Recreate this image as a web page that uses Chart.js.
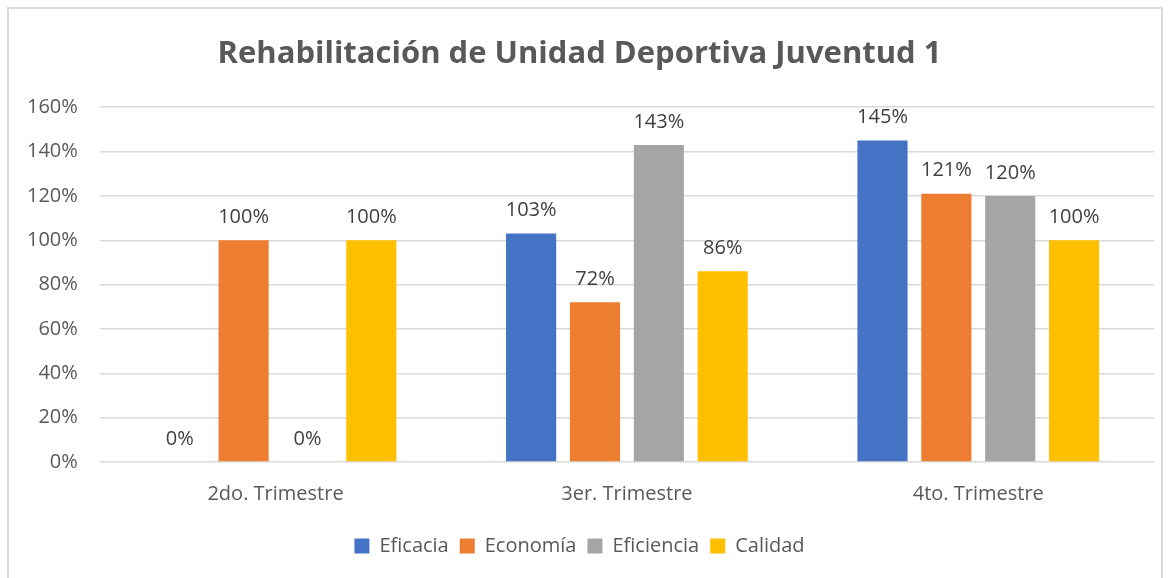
<!DOCTYPE html>
<html>
<head>
<meta charset="utf-8">
<script src="https://cdn.jsdelivr.net/npm/chart.js@4/dist/chart.umd.min.js"></script>
<style>
  html, body { margin: 0; padding: 0; background: #fff; }
  #frame { position: absolute; left: 7px; top: 7px; width: 1156px; height: 580px; border: 2px solid #d9d9d9; box-sizing: border-box; }
  #wrap { position: absolute; left: 0; top: 0; width: 1170px; height: 578px; }
</style>
</head>
<body>
<div id="frame"></div>
<div id="wrap"><canvas id="chart" width="1170" height="578"></canvas></div>
<script>
var categories = ["2do. Trimestre", "3er. Trimestre", "4to. Trimestre"]
var eficacia = [0, 103, 145]
var economia = [100, 72, 121]
var eficiencia = [0, 143, 120]
var calidad = [100, 86, 100]
var yTicks = [0, 20, 40, 60, 80, 100, 120, 140, 160]

var fontFam = "'Open Sans', sans-serif"
var textColor = "#595959"

// draws the value above every bar
var barLabels = {
    id: "barLabels",
    afterDatasetsDraw: function (chart) {
        var ctx = chart.ctx
        ctx.save()
        ctx.font = "20px " + fontFam
        ctx.fillStyle = "#404040"
        ctx.textAlign = "center"
        ctx.textBaseline = "middle"
        chart.data.datasets.forEach(function (ds, i) {
            var meta = chart.getDatasetMeta(i)
            meta.data.forEach(function (bar, j) {
                ctx.fillText(ds.data[j] + "%", bar.x, bar.y - 23)
            })
        })
        ctx.restore()
    }
}

var ctx = document.getElementById("chart").getContext("2d")
var chart = new Chart(ctx, {
    type: "bar",
    data: {
        labels: categories,
        datasets: [
            { label: "Eficacia", data: eficacia, backgroundColor: "#4472C4" },
            { label: "Economía", data: economia, backgroundColor: "#ED7D31" },
            { label: "Eficiencia", data: eficiencia, backgroundColor: "#A5A5A5" },
            { label: "Calidad", data: calidad, backgroundColor: "#FFC000" }
        ]
    },
    options: {
        responsive: false,
        animation: false,
        layout: { padding: { left: 5, right: 16, top: 36, bottom: 12 } },
        datasets: { bar: { categoryPercentage: 0.727, barPercentage: 0.785 } },
        plugins: {
            title: {
                display: true,
                text: "Rehabilitación de Unidad Deportiva Juventud 1",
                color: textColor,
                font: { family: fontFam, size: 31, weight: "bold" },
                padding: { top: 0, bottom: 34 }
            },
            legend: {
                position: "bottom",
                labels: {
                    color: textColor,
                    font: { family: fontFam, size: 20 },
                    boxWidth: 15,
                    boxHeight: 15,
                    padding: 11
                }
            },
            tooltip: { enabled: false }
        },
        scales: {
            x: {
                grid: { display: false },
                border: { display: false },
                ticks: { color: textColor, font: { family: fontFam, size: 20 }, padding: 12 },
                afterFit: function (scale) { scale.height += 7 }
            },
            y: {
                min: 0,
                max: 160,
                afterBuildTicks: function (axis) {
                    axis.ticks = yTicks.map(function (v) { return { value: v } })
                },
                grid: { color: "#d9d9d9", lineWidth: 1.5, drawTicks: false },
                border: { display: false },
                ticks: {
                    color: textColor,
                    font: { family: fontFam, size: 20 },
                    padding: 22,
                    callback: function (v) { return v + "%" }
                }
            }
        }
    },
    plugins: [barLabels]
})
</script>
</body>
</html>
